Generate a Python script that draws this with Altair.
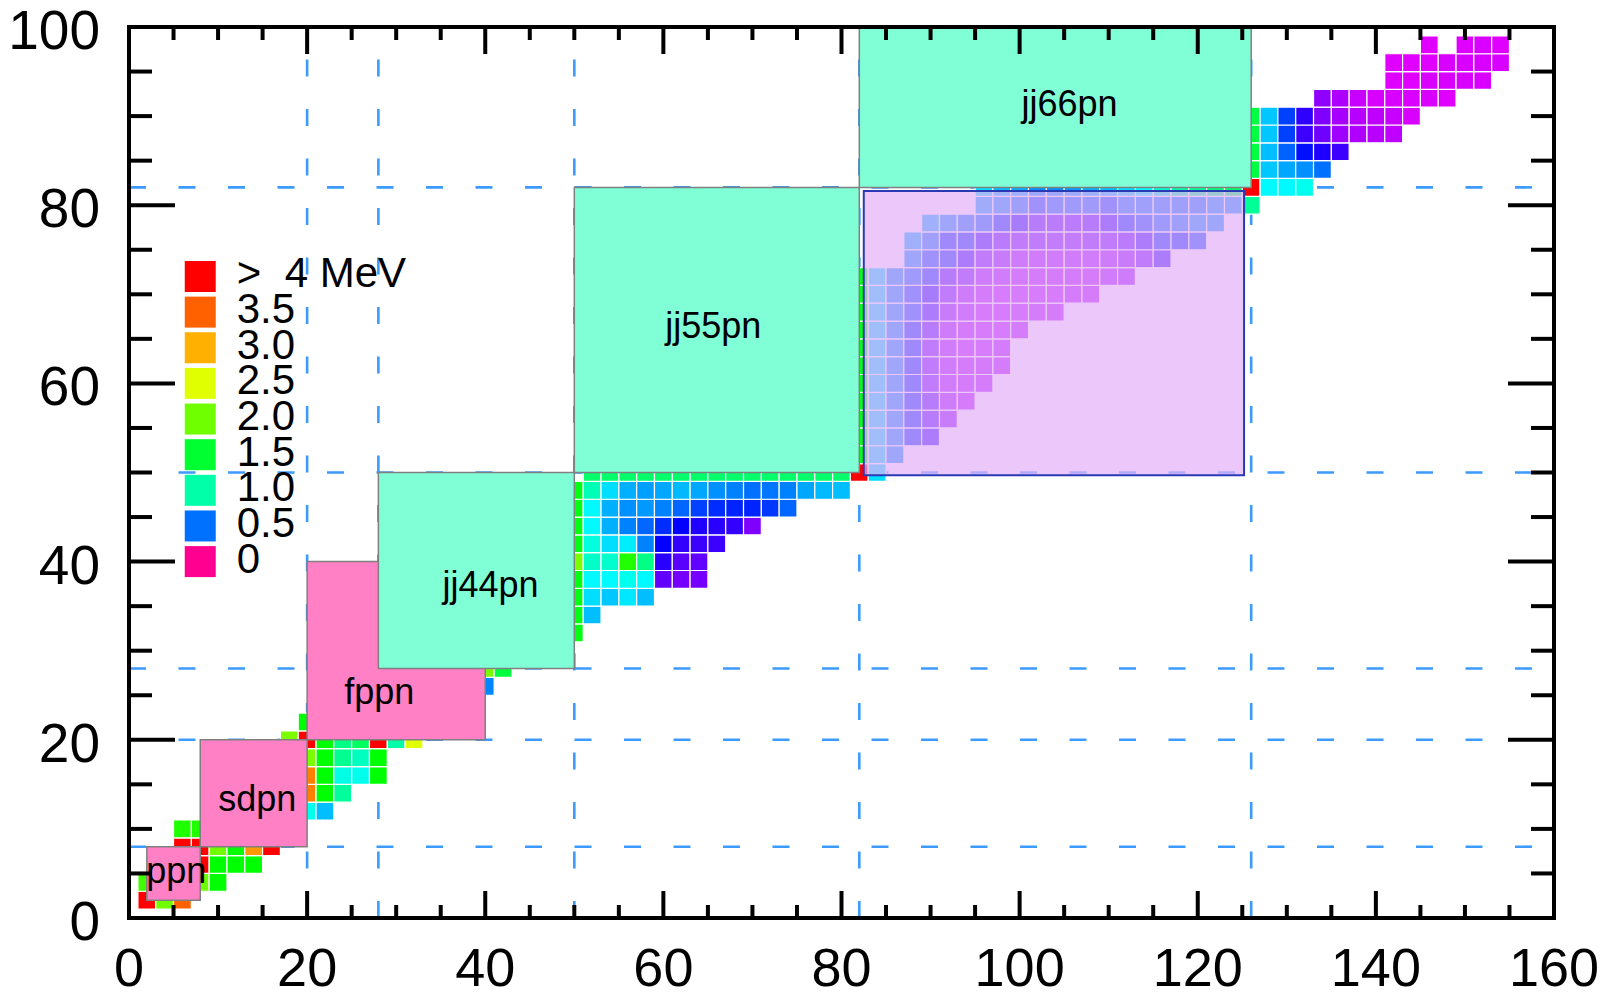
import altair as alt
import pandas as pd

W, H = 1425, 891
FONT = "Liberation Sans"

# axes
X_LABELS = [0, 20, 40, 60, 80, 100, 120, 140, 160]
Y_LABELS = [0, 20, 40, 60, 80, 100]
X_MINOR = [v for v in range(0, 161, 5) if v % 20]
Y_MINOR = [v for v in range(0, 101, 5) if v % 20]

# magic-number guide lines
GUIDE_X = [20, 28, 50, 82, 126]
GUIDE_Y = [8, 20, 28, 50, 82]

# energy colour stops (MeV)
E_STOPS = [0, 0.5, 1.0, 1.5, 2.0, 2.5, 3.0, 3.5, 4.0]
E_COLORS = ["#ff0090", "#0070ff", "#00ffa8", "#00ff30", "#70ff00",
            "#e0ff00", "#ffb000", "#ff6000", "#ff0000"]

# legend entries
LEGEND_E = [4.0, 3.5, 3.0, 2.5, 2.0, 1.5, 1.0, 0.5, 0.0]
LEGEND_TEXT = [">\u00a0 4 MeV", "3.5", "3.0", "2.5", "2.0", "1.5", "1.0", "0.5", "0"]

# model spaces
BOX_NAMES = ["ppn", "sdpn", "fppn", "jj44pn", "jj55pn", "jj66pn"]
BOX_X1 = [2, 8, 20, 28, 50, 82]
BOX_X2 = [8, 20, 40, 50, 82, 126]
BOX_Y1 = [2, 8, 20, 28, 50, 82]
BOX_Y2 = [8, 20, 40, 50, 82, 126]
BOX_FILL = ["#ff80c4", "#ff80c4", "#ff80c4", "#80ffd6", "#80ffd6", "#80ffd6"]
LABEL_X = [5.3, 14.4, 28.1, 40.6, 65.6, 105.6]
LABEL_Y = [5.2, 13.2, 25.2, 37.3, 66.3, 91.2]

# translucent region
LAV_X = [82.5, 125.2]
LAV_Y = [49.7, 81.6]

# excitation energies (MeV); each row: (y, first x, values at x, x+2, ...)
CELLS_LIGHT = [
    (2, 2, [4.5, 2.0, 3.5]),
    (4, 2, [1.85]),
    (4, 8, [2.0, 1.65]),
    (6, 8, [4.5, 1.65, 1.65, 1.65]),
    (8, 6, [4.5, 4.5, 2.0, 1.65, 3.15, 4.5]),
    (10, 6, [1.75, 1.75]),
    (12, 20, [0.85, 0.67]),
    (14, 20, [3.3, 1.65, 1.05]),
    (16, 20, [3.3, 1.65, 0.87, 0.85, 1.65]),
    (18, 20, [2.05, 1.65, 1.1, 0.95, 1.65]),
    (20, 18, [2.05, 4.5, 1.65, 1.15, 1.3, 4.5, 1.0, 2.5]),
    (22, 20, [1.65]),
    (26, 40, [0.55]),
    (28, 40, [2.05, 1.45]),
]

CELLS_MID = [
    (32, 50, [1.6]),
    (34, 50, [1.6, 0.67]),
    (36, 50, [1.6, 0.74, 0.69, 0.76, 0.67]),
    (38, 50, [1.6, 0.80, 0.80, 0.85, 0.80, 0.28, 0.26, 0.26]),
    (40, 50, [2.05, 0.93, 0.92, 1.75, 1.15, 0.34, 0.29, 0.28]),
    (42, 50, [1.6, 0.88, 0.74, 0.77, 0.54, 0.38, 0.33, 0.32, 0.32]),
    (44, 50, [1.6, 0.80, 0.64, 0.54, 0.49, 0.43, 0.38, 0.35, 0.34, 0.33, 0.25]),
    (46, 50, [1.6, 0.80, 0.64, 0.57, 0.59, 0.54, 0.49, 0.45, 0.43, 0.42, 0.42,
              0.44, 0.49]),
    (48, 50, [1.6, 0.97, 0.74, 0.64, 0.60, 0.62, 0.66, 0.62, 0.57, 0.54, 0.50,
              0.51, 0.54, 0.62, 0.66, 0.67]),
    (50, 52, [1.26, 1.26, 1.26, 1.26, 1.26, 1.26, 1.26, 1.26, 1.26, 1.26, 1.26,
              1.26, 1.26, 1.26, 1.26, 4.5, 0.74]),
]

CELLS_HEAVY = [
    (52, 82, [1.6, 0.74, 0.57]),
    (54, 82, [1.6, 0.74, 0.57, 0.43, 0.34]),
    (56, 82, [1.6, 0.74, 0.57, 0.43, 0.30, 0.24]),
    (58, 82, [1.6, 0.74, 0.57, 0.43, 0.30, 0.22, 0.20]),
    (60, 82, [1.6, 0.74, 0.57, 0.43, 0.27, 0.21, 0.20, 0.20]),
    (62, 82, [1.6, 0.74, 0.57, 0.43, 0.27, 0.21, 0.20, 0.20, 0.20]),
    (64, 82, [1.6, 0.74, 0.57, 0.43, 0.27, 0.21, 0.19, 0.19, 0.20]),
    (66, 82, [1.6, 0.74, 0.57, 0.43, 0.30, 0.22, 0.20, 0.19, 0.19, 0.20]),
    (68, 82, [1.6, 0.74, 0.57, 0.46, 0.34, 0.24, 0.21, 0.19, 0.19, 0.19, 0.20,
              0.20]),
    (70, 82, [1.6, 0.74, 0.57, 0.46, 0.36, 0.27, 0.22, 0.20, 0.19, 0.19, 0.19,
              0.19, 0.20, 0.20]),
    (72, 82, [1.6, 0.74, 0.57, 0.49, 0.43, 0.30, 0.27, 0.22, 0.21, 0.20, 0.20,
              0.20, 0.20, 0.20, 0.21, 0.22]),
    (74, 88, [0.57, 0.46, 0.43, 0.34, 0.27, 0.24, 0.22, 0.21, 0.21, 0.21, 0.21,
              0.22, 0.24, 0.27, 0.34]),
    (76, 88, [0.64, 0.52, 0.43, 0.43, 0.34, 0.29, 0.27, 0.27, 0.26, 0.26, 0.27,
              0.27, 0.29, 0.34, 0.43, 0.43, 0.46]),
    (78, 90, [0.64, 0.57, 0.52, 0.49, 0.43, 0.36, 0.30, 0.29, 0.29, 0.30, 0.34,
              0.43, 0.46, 0.49, 0.52, 0.57, 0.57]),
    (80, 96, [0.60, 0.57, 0.52, 0.46, 0.49, 0.49, 0.49, 0.46, 0.52, 0.52, 0.52,
              0.52, 0.52, 0.57, 0.57]),
    (82, 96, [0.74, 0.67, 0.64, 0.57, 0.57, 0.60, 0.64, 0.67, 0.74, 0.80, 0.90,
              1.0, 1.1, 1.2, 1.3]),
]

CELLS_TOP = [
    (80, 126, [1.08]),
    (82, 126, [4.5, 0.80, 0.80, 0.85]),
    (84, 126, [1.43, 0.69, 0.62, 0.57, 0.50]),
    (86, 126, [1.43, 0.67, 0.485, 0.40, 0.35, 0.32]),
    (88, 126, [1.43, 0.69, 0.45, 0.32, 0.266, 0.216, 0.20, 0.19, 0.183]),
    (90, 126, [1.43, 0.69, 0.45, 0.333, 0.25, 0.208, 0.19, 0.183, 0.174, 0.157]),
    (92, 134, [0.233, 0.20, 0.174, 0.157, 0.157, 0.157, 0.157, 0.15]),
    (94, 142, [0.15, 0.15, 0.157, 0.157, 0.157, 0.157]),
    (96, 142, [0.15, 0.15, 0.15, 0.157, 0.157, 0.157, 0.157]),
    (98, 146, [0.15]),
    (98, 150, [0.15, 0.157, 0.15]),
]

cell_rows = []
for group in (CELLS_LIGHT, CELLS_MID, CELLS_HEAVY, CELLS_TOP):
    for y, x0, vals in group:
        for i, e in enumerate(vals):
            cell_rows.append({"x": x0 + 2 * i, "y": y, "e": e})
cells_df = pd.DataFrame(cell_rows)

boxes_df = pd.DataFrame({"name": BOX_NAMES, "x1": BOX_X1, "x2": BOX_X2,
                         "y1": BOX_Y1, "y2": BOX_Y2, "fill": BOX_FILL,
                         "lx": LABEL_X, "ly": LABEL_Y})
legend_df = pd.DataFrame({"e": LEGEND_E, "text": LEGEND_TEXT,
                          "y": [72 - 4 * i for i in range(len(LEGEND_E))]})
legend_df["x"] = 8.0
legend_df["tx"] = 12.1

xs = alt.Scale(domain=[0, 160], nice=False, zero=False)
ys = alt.Scale(domain=[0, 100], nice=False, zero=False)
escale = alt.Scale(domain=E_STOPS, range=E_COLORS, interpolate="hsl", clamp=True)

guide_style = dict(color="#3d9bff", strokeWidth=2.6, strokeDash=[17, 32.5])
guides_v = alt.Chart(pd.DataFrame({"g": GUIDE_X})).mark_rule(**guide_style).encode(
    x=alt.X("g:Q", scale=xs, axis=None), y=alt.value(H), y2=alt.value(0))
guides_h = alt.Chart(pd.DataFrame({"g": GUIDE_Y})).mark_rule(**guide_style).encode(
    y=alt.Y("g:Q", scale=ys, axis=None), x=alt.value(0), x2=alt.value(W))

cells = alt.Chart(cells_df).transform_calculate(
    x1="datum.x - 1", x2="datum.x + 1", y1="datum.y - 1", y2="datum.y + 1"
).mark_rect(stroke="white", strokeWidth=1.2).encode(
    x=alt.X("x1:Q", scale=xs, axis=None),
    x2="x2:Q",
    y=alt.Y("y1:Q", scale=ys, axis=None),
    y2="y2:Q",
    color=alt.Color("e:Q", scale=escale, legend=None),
)

boxes = alt.Chart(boxes_df).mark_rect(stroke="#808080", strokeWidth=1.5, clip=True).encode(
    x=alt.X("x1:Q", scale=xs, axis=None), x2="x2:Q",
    y=alt.Y("y1:Q", scale=ys, axis=None), y2="y2:Q",
    fill=alt.Fill("fill:N", scale=None),
)

lavender = alt.Chart(pd.DataFrame({"x1": [LAV_X[0]], "x2": [LAV_X[1]],
                                   "y1": [LAV_Y[0]], "y2": [LAV_Y[1]]})).mark_rect(
    fill="#e4b0f8", fillOpacity=0.7, stroke="#2a3ab4", strokeWidth=2).encode(
    x=alt.X("x1:Q", scale=xs, axis=None), x2="x2:Q",
    y=alt.Y("y1:Q", scale=ys, axis=None), y2="y2:Q")

box_labels = alt.Chart(boxes_df).mark_text(
    font=FONT, fontSize=36, color="black", align="center", baseline="middle").encode(
    x=alt.X("lx:Q", scale=xs, axis=None), y=alt.Y("ly:Q", scale=ys, axis=None),
    text="name:N")

legend_sq = alt.Chart(legend_df).mark_square(size=961, opacity=1, strokeWidth=0).encode(
    x=alt.X("x:Q", scale=xs, axis=None), y=alt.Y("y:Q", scale=ys, axis=None),
    color=alt.Color("e:Q", scale=escale, legend=None))
legend_tx = alt.Chart(legend_df).mark_text(
    font=FONT, fontSize=42, color="black", align="left", baseline="alphabetic",
    dy=11).encode(
    x=alt.X("tx:Q", scale=xs, axis=None), y=alt.Y("y:Q", scale=ys, axis=None),
    text="text:N")

tick_style = dict(color="black", strokeWidth=4)


def xticks(vals, length):
    d = pd.DataFrame({"v": vals})
    bottom = alt.Chart(d).mark_rule(**tick_style).encode(
        x=alt.X("v:Q", scale=xs, axis=None), y=alt.value(H), y2=alt.value(H - length))
    top = alt.Chart(d).mark_rule(**tick_style).encode(
        x=alt.X("v:Q", scale=xs, axis=None), y=alt.value(0), y2=alt.value(length))
    return [bottom, top]


def yticks(vals, length):
    d = pd.DataFrame({"v": vals})
    left = alt.Chart(d).mark_rule(**tick_style).encode(
        y=alt.Y("v:Q", scale=ys, axis=None), x=alt.value(0), x2=alt.value(length))
    right = alt.Chart(d).mark_rule(**tick_style).encode(
        y=alt.Y("v:Q", scale=ys, axis=None), x=alt.value(W), x2=alt.value(W - length))
    return [left, right]


# tick labels drawn as text below / left of the frame
x_text = alt.Chart(pd.DataFrame({"v": X_LABELS})).mark_text(
    font=FONT, fontSize=54, color="black", align="center", baseline="alphabetic").encode(
    x=alt.X("v:Q", scale=xs, axis=None), y=alt.value(H + 68), text="v:Q")
y_text = alt.Chart(pd.DataFrame({"v": Y_LABELS})).mark_text(
    font=FONT, fontSize=55, color="black", align="right", baseline="alphabetic",
    dy=22).encode(
    y=alt.Y("v:Q", scale=ys, axis=None), x=alt.value(-29), text="v:Q")

frame = alt.Chart(pd.DataFrame({"k": [0]})).mark_rect(
    fillOpacity=0, stroke="black", strokeWidth=4).encode(
    x=alt.value(0), x2=alt.value(W), y=alt.value(0), y2=alt.value(H))

layers = [guides_v, guides_h, cells, boxes, lavender, box_labels, legend_sq, legend_tx]
layers += xticks(X_LABELS, 27) + xticks(X_MINOR, 13)
layers += yticks(Y_LABELS, 46) + yticks(Y_MINOR, 23)
layers += [x_text, y_text, frame]

chart = alt.layer(*layers).properties(
    width=W, height=H,
    autosize=alt.AutoSizeParams(type="none"),
    padding={"left": 129, "top": 27, "right": 1621 - 129 - W, "bottom": 997 - 27 - H},
).configure_view(stroke=None)

chart.save("out.html", embed_options={"renderer": "svg", "actions": False})
